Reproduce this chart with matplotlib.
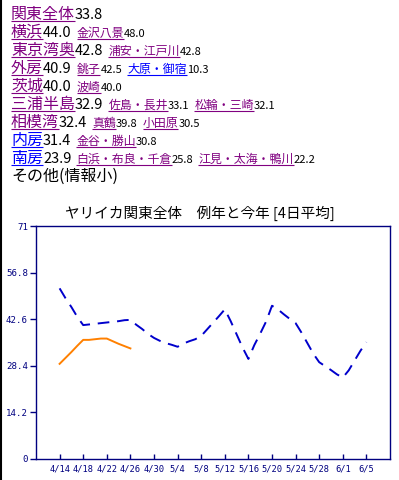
import pandas as pd
import matplotlib
matplotlib.use('Agg')
import matplotlib.pyplot as plt

plt.rcParams['font.family'] = ['Noto Sans CJK JP', 'DejaVu Sans']

#-------------------------------------------------------------------------------
# Data
#-------------------------------------------------------------------------------

# Area list shown above the chart (name, value, sub areas and their values).
area_names = ['関東全体', '横浜', '東京湾奥', '外房', '茨城', '三浦半島', '相模湾', '内房', '南房']
area_values = ['33.8', '44.0', '42.8', '40.9', '40.0', '32.9', '32.4', '31.4', '23.9']
sub_names = [
    [],
    ['金沢八景'],
    ['浦安・江戸川'],
    ['銚子', '大原・御宿'],
    ['波崎'],
    ['佐島・長井', '松輪・三崎'],
    ['真鶴', '小田原'],
    ['金谷・勝山'],
    ['白浜・布良・千倉', '江見・太海・鴨川'],
]
sub_values = [
    [],
    ['48.0'],
    ['42.8'],
    ['42.5', '10.3'],
    ['40.0'],
    ['33.1', '32.1'],
    ['39.8', '30.5'],
    ['30.8'],
    ['25.8', '22.2'],
]
unvisited = {'内房', '南房', '大原・御宿'}
other_label = 'その他(情報小)'

# Chart: normal year (daily, 4/14 - 6/5) and this year (4/14 - 4/26).
title = 'ヤリイカ関東全体　例年と今年 [4日平均]'
normal_vals = [52.0, 49.0, 46.3, 43.3, 40.8, 41.0, 41.2, 41.4, 41.6, 41.8,
               42.0, 42.3, 42.4, 40.9, 39.6, 38.1, 36.9, 36.0, 35.3, 34.8,
               34.2, 35.2, 35.9, 36.5, 37.5, 39.5, 41.5, 43.5, 45.6, 42.0,
               38.0, 34.0, 30.5, 34.7, 38.2, 41.9, 46.7, 45.6, 44.1, 42.7,
               41.4, 38.5, 35.3, 32.1, 29.5, 28.3, 27.1, 25.8, 24.8, 27.0,
               30.0, 33.0, 35.6]
this_vals = [29.0, 30.8, 32.6, 34.5, 36.3, 36.3, 36.5, 36.7, 36.7, 35.9,
             35.1, 34.4, 33.7]
tick_labels = ['4/14', '4/18', '4/22', '4/26', '4/30', '5/4', '5/8',
               '5/12', '5/16', '5/20', '5/24', '5/28', '6/1', '6/5']
y_ticks = [0, 14.2, 28.4, 42.6, 56.8, 71]
y_labels = ['0', '14.2', '28.4', '42.6', '56.8', '71']

normal_dates = pd.date_range('2023-04-14', periods=len(normal_vals), freq='D')
this_dates = pd.date_range('2023-04-14', periods=len(this_vals), freq='D')
tick_dates = pd.date_range('2023-04-14', periods=len(tick_labels), freq='4D')

#-------------------------------------------------------------------------------
# Figure
#-------------------------------------------------------------------------------

W, H = 399, 480
fig = plt.figure(figsize=(W / 100, H / 100), dpi=100)

# Overlay in pixel coordinates for the text block.
top = fig.add_axes([0, 0, 1, 1])
top.set_xlim(0, W)
top.set_ylim(H, 0)
top.axis('off')
renderer = fig.canvas.get_renderer()

purple = '#800080'
link_blue = '#0000ff'

def put(x, y, s, size, color, link=False):
    t = top.text(x, y, s, fontsize=size, color=color, ha='left', va='baseline')
    w = t.get_window_extent(renderer).width
    if link:
        top.plot([x, x + w], [y + 2, y + 2], color=color, lw=0.8,
                 solid_capstyle='butt')
    return x + w

for i, name in enumerate(area_names):
    y = 19 + 18 * i
    col = link_blue if name in unvisited else purple
    x = put(11, y, name, 11.5, col, link=True)
    x = put(x, y, area_values[i], 10.5, 'black')
    for sn, sv in zip(sub_names[i], sub_values[i]):
        scol = link_blue if sn in unvisited else purple
        x = put(x + 5, y, sn, 8.6, scol, link=True)
        x = put(x, y, sv, 8.0, 'black')

put(11, 19 + 18 * len(area_names), other_label, 11.5, 'black')

# Window edge on the left.
top.plot([0.8, 0.8], [0, H], color='black', lw=1.5)

# Chart title.
top.text(200, 218, title, fontsize=10.5, color='black', ha='center', va='baseline')

# Chart.
navy = '#000080'
ax = fig.add_axes([36 / W, 21 / H, 354 / W, 233 / H])
ax.plot(normal_dates, normal_vals, color='#0000cc', lw=1.4, dashes=(6, 4))
ax.plot(this_dates, this_vals, color='#ff8000', lw=1.4)

ax.set_xlim(pd.Timestamp('2023-04-10'), pd.Timestamp('2023-06-09'))
ax.set_ylim(0, 71)
ax.set_xticks(tick_dates)
ax.set_xticklabels(tick_labels, fontfamily='DejaVu Sans Mono')
ax.set_yticks(y_ticks)
ax.set_yticklabels(y_labels, fontfamily='DejaVu Sans Mono')
ax.tick_params(axis='y', direction='out', length=4.3, width=1, colors=navy,
               pad=1.5, labelsize=6.6)
ax.tick_params(axis='x', direction='in', length=3.5, width=1, colors=navy,
               pad=4, labelsize=6.3)
for sp in ax.spines.values():
    sp.set_color(navy)
    sp.set_linewidth(1.0)

fig.savefig('out.png', dpi=100)
